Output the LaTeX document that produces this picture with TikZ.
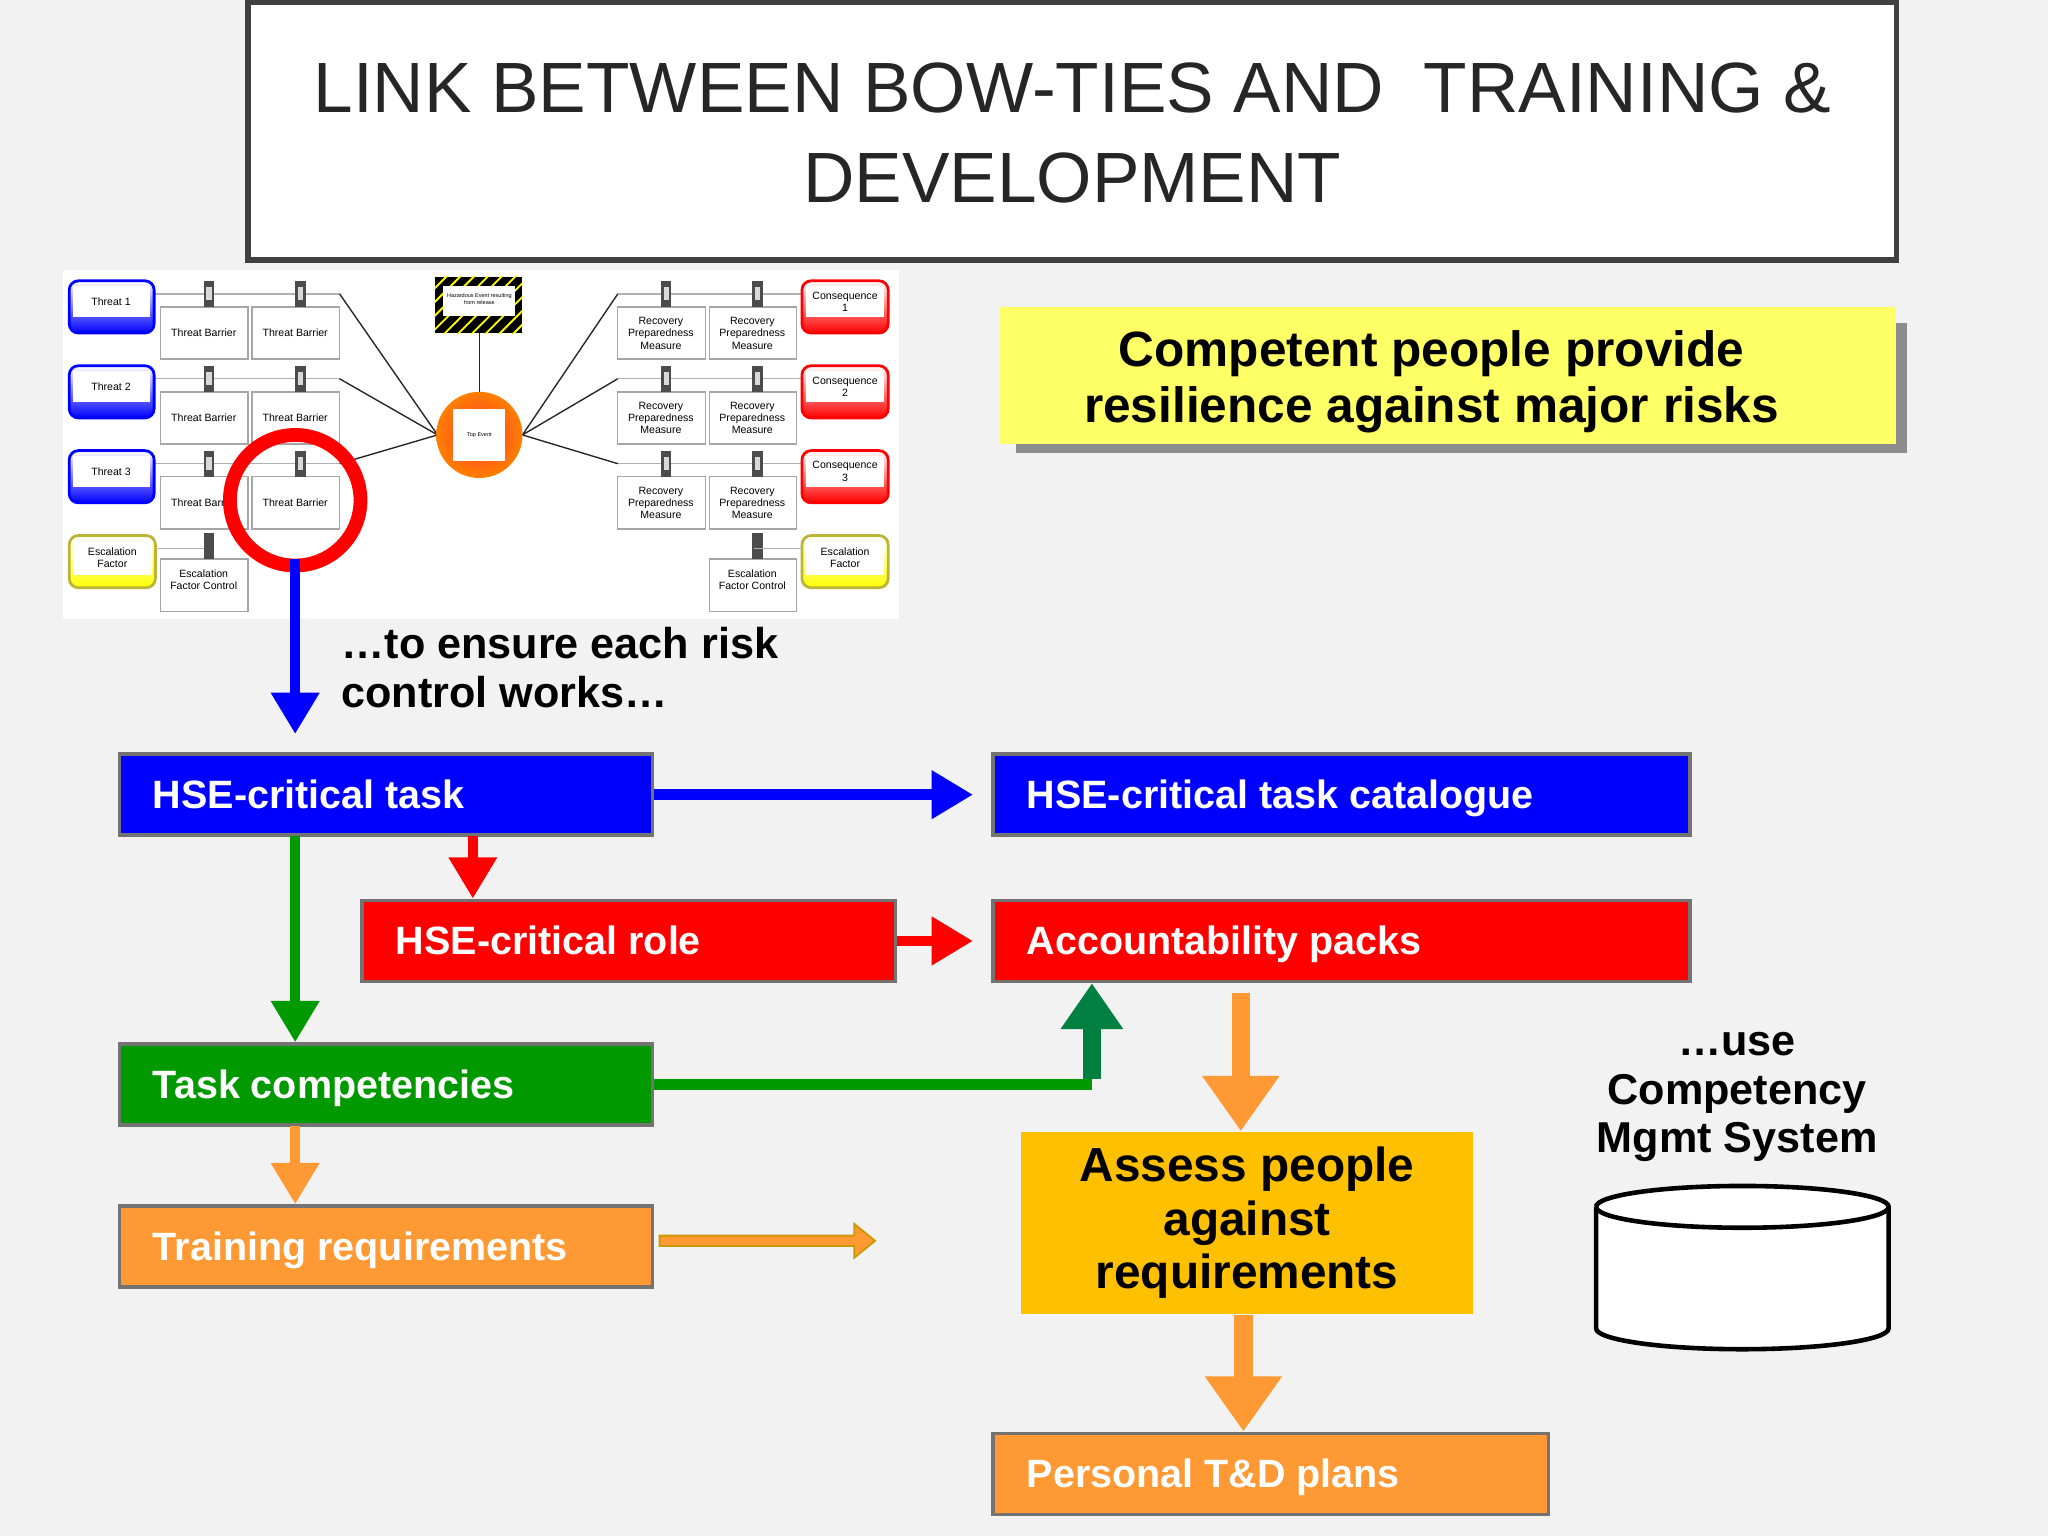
\documentclass[tikz,border=0pt]{standalone}
\usepackage{fontspec}
\setmainfont{Liberation Sans}
\usetikzlibrary{arrows.meta,patterns,shapes.geometric}
\definecolor{bg}{HTML}{F2F2F2}
\definecolor{hblue}{HTML}{0000FF}
\definecolor{hred}{HTML}{FF0000}
\definecolor{hgreen}{HTML}{009900}
\definecolor{horange}{HTML}{FF9933}
\definecolor{hgold}{HTML}{FFC000}
\definecolor{hyel}{HTML}{FFFF66}
\definecolor{dgreen}{HTML}{008040}
\begin{document}
\begin{tikzpicture}[x=0.01cm,y=-0.01cm,
  bar/.style={draw=black!55,line width=0.8pt,fill=#1,minimum height=0.62cm,anchor=north west},
  lbl/.style={anchor=west,text=white,font=\bfseries\fontsize{8.6}{10}\selectfont,inner xsep=7.5pt,
    text height=1.6ex,text depth=0.45ex},
  arr/.style={draw=#1,line width=2.3pt,-{Triangle[length=9pt,width=10pt]}},
  big/.style={draw=#1,line width=4pt,-{Triangle[length=12pt,width=16pt]}},
  tiny/.style={font=\fontsize{2.3}{2.7}\selectfont,align=center,inner sep=0pt},
  wb/.style={draw=gray!70,fill=white,line width=0.3pt},
  pin/.style={fill=black!70,draw=none}]
\fill[bg] (0,0) rectangle (1568,1176);
\useasboundingbox (0,0) rectangle (1568,1176);
% title
\draw[black!75,line width=1.2pt,fill=white] (190,2) rectangle (1452,199);
\node[font=\fontsize{15.5}{19.5}\selectfont,align=center,text=black!85] (title) at (821,102)
  {LINK BETWEEN BOW-TIES AND \ TRAINING \&\\DEVELOPMENT};
% bow-tie picture
\fill[white] (48,207) rectangle (688,474);
\foreach \y/\t in {215/Threat 1,280/Threat 2,345/Threat 3}{
  \draw[gray!60,line width=0.3pt] (118,\y+10) -- (260,\y+10);
  \shade[top color=white,bottom color=blue,rounded corners=2pt] (53,\y) rectangle (118,\y+40);
  \draw[blue,rounded corners=2pt,line width=0.6pt] (53,\y) rectangle (118,\y+40);
  \fill[white] (56,\y+4) rectangle (115,\y+28);
  \node[tiny] at (85,\y+16) {\t};
  \foreach \x in {123,193}{
    \draw[wb] (\x,\y+20) rectangle (\x+67,\y+60);
    \node[tiny] at (\x+33,\y+40) {Threat Barrier};
    \fill[pin] (\x+33,\y) rectangle (\x+41,\y+20);
    \fill[gray!30] (\x+35,\y+5) rectangle (\x+39,\y+15);}
  \draw[gray!30!black,line width=0.3pt] (260,\y+10) -- (335,333);
  \draw[gray!60,line width=0.3pt] (473,\y+10) -- (614,\y+10);
  \draw[gray!30!black,line width=0.3pt] (473,\y+10) -- (400,333);
  \foreach \x in {473,543}{
    \draw[wb] (\x,\y+20) rectangle (\x+67,\y+60);
    \node[tiny] at (\x+33,\y+40) {Recovery\\Preparedness\\Measure};
    \fill[pin] (\x+33,\y) rectangle (\x+41,\y+20);
    \fill[gray!30] (\x+35,\y+5) rectangle (\x+39,\y+15);}
  \shade[top color=white,bottom color=red,rounded corners=2pt] (614,\y) rectangle (680,\y+40);
  \draw[red,rounded corners=2pt,line width=0.6pt] (614,\y) rectangle (680,\y+40);
  \fill[white] (617,\y+4) rectangle (677,\y+28);}
\node[tiny] at (647,231) {Consequence\\1};
\node[tiny] at (647,296) {Consequence\\2};
\node[tiny] at (647,361) {Consequence\\3};
% escalation
\foreach \x in {53,614}{
  \shade[top color=white,bottom color=yellow,rounded corners=2pt] (\x,410) rectangle (\x+66,450);
  \draw[yellow!70!black,rounded corners=2pt,line width=0.6pt] (\x,410) rectangle (\x+66,450);
  \fill[white] (\x+3,414) rectangle (\x+63,440);
  \node[tiny] at (\x+33,427) {Escalation\\Factor};}
\foreach \x in {123,543}{
  \draw[wb] (\x,428) rectangle (\x+67,468);
  \fill[pin] (\x+33,408) rectangle (\x+41,428);
  \node[tiny] at (\x+33,444) {Escalation\\Factor Control};}
\draw[gray!60,line width=0.3pt] (119,420) -- (156,420) (577,420) -- (614,420);
% hazard & top event
\draw[gray!30!black,line width=0.3pt] (367,255) -- (367,300);
\fill[black] (333,212) rectangle (400,255);
\fill[pattern=north east lines,pattern color=yellow] (333,212) rectangle (400,255);
\fill[white] (339,219) rectangle (394,242);
\node[tiny,font=\fontsize{1.2}{1.6}\selectfont] at (367,229) {Hazardous Event resulting\\from release};
\shade[inner color=red!80,outer color=orange] (367,333) circle (33);
\fill[white] (347,313) rectangle (387,353);
\node[tiny,font=\fontsize{1.2}{1.6}\selectfont] at (367,333) {Top Event};
\draw[red,line width=3pt] (226,383) circle (50);
\coordinate (rc) at (226,428);
% statement boxes
\fill[black!45] (778,247) rectangle (1460,347);
\fill[hyel] (766,235) rectangle (1452,340);
\node[font=\bfseries\fontsize{10.8}{12.2}\selectfont,align=center] (res) at (1096,292)
  {Competent people provide\\resilience against major risks};
\node[font=\bfseries\fontsize{9.4}{10.8}\selectfont,align=left,anchor=west] (ens) at (249,511)
  {…to ensure each risk\\control works…};
% bars
\node[bar=hblue,minimum width=4.08cm] (task) at (90,576) {};
\node[bar=hblue,minimum width=5.33cm] (cat) at (759,576) {};
\node[bar=hred,minimum width=4.08cm] (role) at (276,688) {};
\node[bar=hred,minimum width=5.33cm] (acc) at (759,688) {};
\node[bar=hgreen,minimum width=4.08cm] (comp) at (90,798) {};
\node[bar=horange,minimum width=4.08cm] (train) at (90,922) {};
\node[bar=horange,minimum width=4.25cm] (plan) at (759,1096) {};
\node[lbl] at (task.west) {HSE-critical task};
\node[lbl] at (cat.west) {HSE-critical task catalogue};
\node[lbl] at (role.west) {HSE-critical role};
\node[lbl] at (acc.west) {Accountability packs};
\node[lbl] at (comp.west) {Task competencies};
\node[lbl] at (train.west) {Training requirements};
\node[lbl] at (plan.west) {Personal T\&D plans};
\node[fill=hgold,minimum width=3.46cm,minimum height=1.34cm,align=center,anchor=north west,
  font=\bfseries\fontsize{10.4}{11.6}\selectfont] (assess) at (781,866)
  {Assess people\\against\\requirements};
% arrows
\draw[arr=hblue] (rc) -- (226,562);
\draw[arr=hblue,shorten >=0.14cm] (task.east) -- (cat.west);
\draw[arr=hred] (362,640) -- (role.north -| 362,0);
\draw[arr=hred,shorten >=0.14cm] (role.east) -- (acc.west);
\draw[arr=hgreen] (226,640) -- (comp.north -| 226,0);
\draw[arr=horange] (226,862) -- (train.north -| 226,0);
\coordinate (gk) at (836,0);
\draw[draw=hgreen,line width=2.3pt] (comp.east) -- (comp.east -| gk);
\draw[draw=dgreen,line width=4pt,-{Triangle[length=10pt,width=13pt]}] (836,826) -- (acc.south -| gk);
\draw[big=horange] (950,760) -- (assess.north -| 950,0);
\draw[big=horange] (assess.south -| 952,0) -- (plan.north -| 952,0);
\draw[draw=hgold!80!black,line width=0.4pt,fill=horange]
  (505,946) -- (654,946) -- (654,937) -- (670,950) -- (654,963) -- (654,954) -- (505,954) -- cycle;
% database
\node[font=\bfseries\fontsize{9.4}{10.6}\selectfont,align=center] (cms) at (1330,840)
  {…use\\Competency\\Mgmt System};
\draw[line width=1pt,fill=white] (1222,924) -- (1222,1017)
  arc[start angle=180,end angle=0,x radius=112,y radius=16]
  -- (1446,924) arc[start angle=0,end angle=-180,x radius=112,y radius=16];
\draw[line width=1pt] (1222,924) arc[start angle=180,end angle=0,x radius=112,y radius=16];
\end{tikzpicture}
\end{document}
